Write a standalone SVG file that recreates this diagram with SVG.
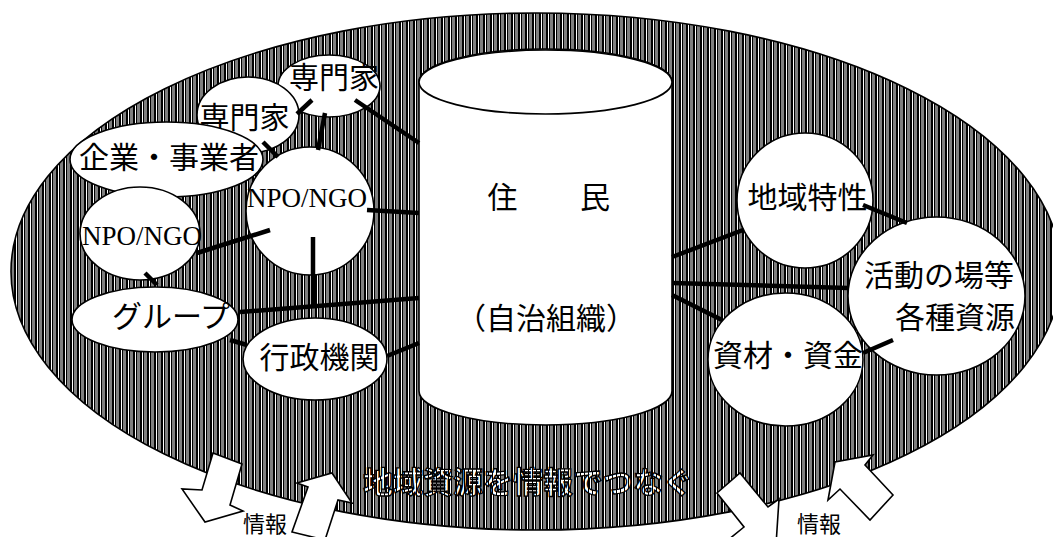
<svg xmlns="http://www.w3.org/2000/svg" width="1053" height="537" viewBox="0 0 1053 537">
<defs>
<pattern id="hatch" patternUnits="userSpaceOnUse" width="7" height="10">
<rect width="7" height="10" fill="#fff"/>
<rect x="0" width="2" height="10" fill="#000"/>
<rect x="3" width="1.5" height="10" fill="#000"/>
<rect x="5.5" width="1" height="10" fill="#000"/>
</pattern>
<pattern id="hatchLight" patternUnits="userSpaceOnUse" width="4" height="10">
<rect width="4" height="10" fill="#fff"/>
<rect x="0" width="1" height="10" fill="#000"/>
</pattern>
<style>
.node{fill:#fff;stroke:#000;stroke-width:1.6}
.lbl{font-family:"Noto Sans CJK JP","Noto Sans CJK SC",sans-serif;font-size:30px;text-anchor:middle;fill:#000}
.lat{font-family:"Liberation Serif",serif;font-size:27px;fill:#000}
.conn line{stroke:#000;stroke-width:4.5;stroke-linecap:butt}
.arrow{fill:#fff;stroke:#000;stroke-width:1.6;stroke-linejoin:miter}
.small{font-family:"Noto Sans CJK JP","Noto Sans CJK SC",sans-serif;font-size:22px;text-anchor:middle;fill:#000}
</style>
</defs>
<rect width="1053" height="537" fill="#fff"/>
<g id="region">
<ellipse cx="536" cy="271.5" rx="525" ry="258.5" fill="url(#hatch)" stroke="#000" stroke-width="1.6"/>
<text x="528" y="493" font-family="'Noto Sans CJK JP','Noto Sans CJK SC',sans-serif" font-size="30" font-weight="700" text-anchor="middle" fill="url(#hatchLight)" stroke="#000" stroke-width="1.3">地域資源を情報でつなぐ</text>
</g>
<g id="info-arrows">
<polygon class="arrow" points="213,453 242,464 230,505 243,511 205,522 182,489 202,490"/>
<polygon class="arrow" points="297,483 332,473 352,503 338,500 325,540 292,532 308,487"/>
<polygon class="arrow" points="717,493 740,473 768,507 779,499 776,545 728,540 744,527"/>
<polygon class="arrow" points="828,500 835,462 873,455 865,465 893,495 870,520 840,489"/>
<text class="small" x="265" y="532">情報</text>
<text class="small" x="819" y="532">情報</text>
</g>
<g id="residents">
<path class="node" stroke-width="2.2" d="M419,82 V391 A126.5,34 0 0 0 672,391 V82 A126.5,33 0 0 0 419,82 Z"/>
<ellipse class="node" cx="545.5" cy="82" rx="126.5" ry="32"/>
<text class="lbl" x="502.5" y="208" font-size="29">住</text>
<text class="lbl" x="595" y="208" font-size="29">民</text>
<text class="lbl" x="546" y="329" font-size="29">（自治組織）</text>
</g>
<g id="expert1">
<ellipse class="node" cx="329" cy="86" rx="51" ry="31"/>
<text class="lbl" x="334" y="88">専門家</text>
</g>
<g id="expert2">
<ellipse class="node" cx="248" cy="115" rx="51" ry="38"/>
<text class="lbl" x="244.5" y="128">専門家</text>
</g>
<g id="business">
<ellipse class="node" cx="166.5" cy="159.5" rx="96.5" ry="37.5"/>
<text class="lbl" x="169" y="168">企業・事業者</text>
</g>
<g id="npo-main">
<ellipse class="node" cx="310" cy="211" rx="64" ry="64"/>
<text class="lat" x="247" y="207">NPO/NGO</text>
</g>
<g id="npo-left">
<ellipse class="node" cx="140" cy="233.5" rx="60" ry="46.5"/>
<text class="lat" x="82" y="245">NPO/NGO</text>
</g>
<g id="group">
<ellipse class="node" cx="155" cy="319.5" rx="83" ry="32.5"/>
<text class="lbl" x="171" y="327">グループ</text>
</g>
<g id="government">
<ellipse class="node" cx="315" cy="359" rx="72" ry="41"/>
<text class="lbl" x="319.5" y="368">行政機関</text>
</g>
<g id="local-traits">
<ellipse class="node" cx="805" cy="200.5" rx="68" ry="67.5"/>
<text class="lbl" x="807.5" y="208">地域特性</text>
</g>
<g id="resources">
<ellipse class="node" cx="936.5" cy="296" rx="88.5" ry="79"/>
<text class="lbl" x="939" y="286">活動の場等</text>
<text class="lbl" x="955" y="328">各種資源</text>
</g>
<g id="funds">
<ellipse class="node" cx="785.5" cy="359.5" rx="77.5" ry="66.5"/>
<text class="lbl" x="788" y="366">資材・資金</text>
</g>
<g id="connectors" class="conn">
<line x1="355" y1="100" x2="419" y2="143"/>
<line x1="297" y1="114" x2="312" y2="100"/>
<line x1="325" y1="113" x2="318" y2="150"/>
<line x1="263" y1="142" x2="278" y2="157"/>
<line x1="367" y1="210" x2="419" y2="213"/>
<line x1="197" y1="253" x2="270" y2="230"/>
<line x1="313" y1="237" x2="313" y2="308"/>
<line x1="145" y1="273" x2="157" y2="285"/>
<line x1="240" y1="312" x2="419" y2="298"/>
<line x1="230" y1="340" x2="247" y2="345"/>
<line x1="387" y1="356" x2="419" y2="343"/>
<line x1="672" y1="257" x2="743" y2="230"/>
<line x1="863" y1="205" x2="907" y2="223"/>
<line x1="672" y1="283" x2="848" y2="288"/>
<line x1="672" y1="295" x2="722" y2="320"/>
<line x1="863" y1="353" x2="893" y2="340"/>
</g>
</svg>
